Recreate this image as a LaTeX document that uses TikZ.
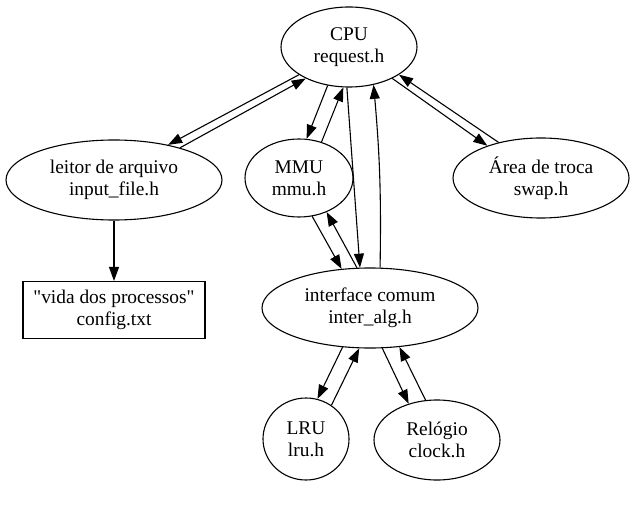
\documentclass[tikz,border=0pt]{standalone}
\usepackage{fontspec}
\setmainfont{Liberation Serif}[Ligatures=TeXOff]
\usetikzlibrary{shapes.geometric,arrows.meta}
\begin{document}
\begin{tikzpicture}[x=1bp,y=-1bp,
  lbl/.style={font=\fontsize{19.4bp}{21.7bp}\selectfont, align=center, inner sep=0pt, line width=1.1bp},
  ell/.style={lbl, ellipse, draw},
  boxn/.style={lbl, rectangle, draw},
  arr/.style={-{Triangle[length=14bp,width=10bp]}, line width=1.1bp}
]
\useasboundingbox (0,0) rectangle (641,515);
\node[ell, minimum width=136bp, minimum height=80bp] (cpu) at (349,47) {CPU\\request.h};
\node[ell, minimum width=216bp, minimum height=80bp] (leitor) at (114,180) {leitor de arquivo\\input\_file.h};
\node[ell, minimum width=108bp, minimum height=78bp] (mmu) at (299,178) {MMU\\mmu.h};
\node[ell, minimum width=176bp, minimum height=80bp] (swap) at (541,178) {Área de troca\\swap.h};
\node[boxn, minimum width=182bp, minimum height=57bp] (cfg) at (114,310) {"vida dos processos"\\config.txt};
\node[ell, minimum width=216bp, minimum height=80bp] (inter) at (370,308) {interface comum\\inter\_alg.h};
\node[ell, minimum width=86bp, minimum height=82bp] (lru) at (306,439) {LRU\\lru.h};
\node[ell, minimum width=126bp, minimum height=80bp] (clock) at (437,440) {Relógio\\clock.h};

\draw[arr] (cpu.-151) -- (leitor.33);
\draw[arr] (leitor.26) -- (cpu.-144);
\draw[arr] (cpu.-119) -- (mmu.79);
\draw[arr] (mmu.58) -- (cpu.-98);
\draw[arr] (cpu.-93) -- (inter.104);
\draw[arr] (inter.76) to[bend right=3] (cpu.-57);
\draw[arr] (cpu.-36) -- (swap.149);
\draw[arr] (swap.140) -- (cpu.-29);
\draw[arr] (leitor.south) -- (cfg.north);
\draw[arr] (mmu.-71) -- (inter.126);
\draw[arr] (inter.108) -- (mmu.-51);
\draw[arr] (inter.-125) -- (lru.74);
\draw[arr] (lru.53) -- (inter.-105);
\draw[arr] (inter.-73) -- (clock.128);
\draw[arr] (clock.106) -- (inter.-53);
\end{tikzpicture}
\end{document}
